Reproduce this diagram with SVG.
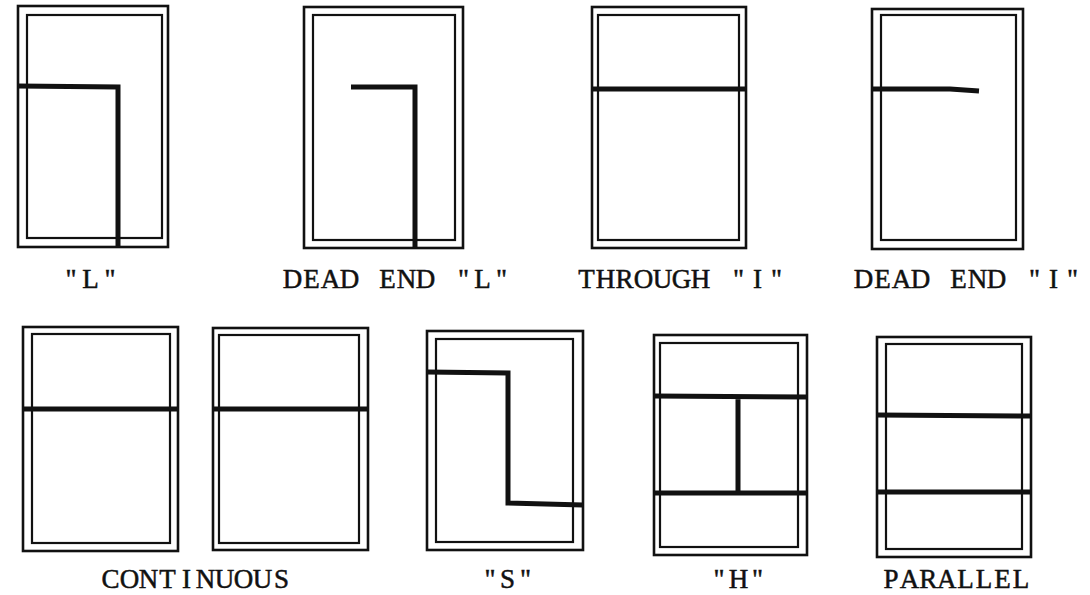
<svg xmlns="http://www.w3.org/2000/svg" width="1090" height="595" viewBox="0 0 1090 595">
<style>
.o{fill:none;stroke:#111;stroke-width:2.6}
.i{fill:none;stroke:#111;stroke-width:2.2}
.w{fill:none;stroke:#111;stroke-width:5;stroke-linejoin:miter;stroke-linecap:butt}
.t{font-family:"Liberation Serif","Times New Roman",serif;font-size:27px;fill:#111;stroke:#111;stroke-width:0.5;text-anchor:middle}
</style>
<rect width="1090" height="595" fill="#fff"/>
<g id="box-L">
<rect class="o" x="18" y="6" width="150" height="241"/>
<rect class="i" x="27" y="15" width="135" height="223"/>
<path class="w" d="M18 86 L118 87 L118 247"/>
<text class="t" x="71 90.5 110" y="288">"L"</text>
</g>
<g id="box-deadend-L">
<rect class="o" x="304" y="7" width="159" height="241"/>
<rect class="i" x="313" y="15" width="142" height="225"/>
<path class="w" d="M351 87 L415 87 L415 248"/>
<text class="t" x="292.5 311.5 330.5 349.5 368.5 387.5 406.5 425.5 444.5 463.5 482.5 501.5" y="288">DEAD END "L"</text>
</g>
<g id="box-through-I">
<rect class="o" x="592" y="7" width="154" height="241"/>
<rect class="i" x="598" y="15" width="141" height="225"/>
<path class="w" d="M592 89 L746 89"/>
<text class="t" x="586.5 605.5 624.5 643.5 662.5 681.5 700.5 719.5 738.5 757.5 776.5" y="288">THROUGH "I"</text>
</g>
<g id="box-deadend-I">
<rect class="o" x="872" y="9" width="151" height="240"/>
<rect class="i" x="881" y="15" width="135" height="225"/>
<path class="w" d="M872 89 L950 89 L979 91"/>
<text class="t" x="863.5 882.5 901.5 920.5 939.5 958.5 977.5 996.5 1015.5 1034.5 1053.5 1072.5" y="288">DEAD END "I"</text>
</g>
<g id="box-continuous-a">
<rect class="o" x="23" y="327" width="155" height="224"/>
<rect class="i" x="32" y="334" width="138" height="209"/>
<path class="w" d="M23 409 L178 409"/>
</g>
<g id="box-continuous-b">
<rect class="o" x="213" y="328" width="155" height="222"/>
<rect class="i" x="219" y="335" width="140" height="208"/>
<path class="w" d="M213 409 L368 409"/>
</g>
<text id="label-continuous" class="t" x="110.5 129.5 148.5 167.5 186.5 205.5 224.5 243.5 262.5 281.5" y="588">CONTINUOUS</text>
<g id="box-S">
<rect class="o" x="427" y="331" width="156" height="219"/>
<rect class="i" x="436" y="339" width="137" height="203"/>
<path class="w" d="M427 372 L508 373 L508 503 L583 505"/>
<text class="t" x="490 507.5 525.5" y="588">"S"</text>
</g>
<g id="box-H">
<rect class="o" x="654" y="335" width="153" height="220"/>
<rect class="i" x="660" y="343" width="138" height="204"/>
<path class="w" d="M654 396 L807 397 M654 493 L807 493 M738 397 L738 493"/>
<text class="t" x="719 738.5 757.5" y="588">"H"</text>
</g>
<g id="box-parallel">
<rect class="o" x="877" y="337" width="154" height="220"/>
<rect class="i" x="886" y="344" width="136" height="205"/>
<path class="w" d="M877 415 L1031 416 M877 492 L1031 492"/>
<text class="t" x="891 909.6 928.2 946.8 965.4 984 1002.6 1021" y="588">PARALLEL</text>
</g>
</svg>
